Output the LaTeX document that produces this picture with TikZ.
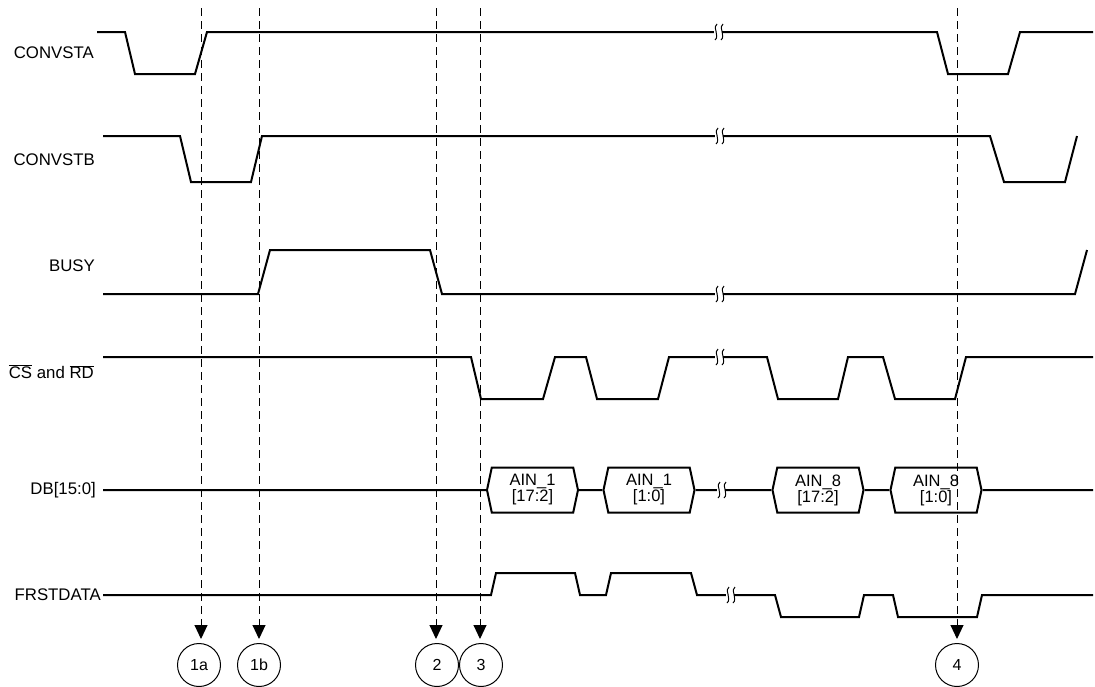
\documentclass[tikz,border=0pt]{standalone}
\usepackage{fontspec}
\setmainfont{Liberation Sans}
\usetikzlibrary{arrows.meta,shapes.symbols}
\tikzset{
  sig/.style={line width=2pt, line join=miter},
  lbl/.style={anchor=east, inner sep=0pt, font=\fontsize{16.8}{18}\selectfont},
  guide/.style={line width=1pt, dash pattern=on 8pt off 5pt, -{Triangle[width=13pt,length=14pt]}, shorten >=4pt},
  evtmark/.style={circle, draw, line width=1pt, minimum size=43pt, inner sep=0pt, font=\fontsize{16}{18}\selectfont},
  busbox/.style={signal, signal to=west and east, signal pointer angle=156, draw, line width=2pt,
     minimum width=91pt, minimum height=45pt, inner sep=0pt, align=center,
     font=\fontsize{16.5}{17}\selectfont},
  brk/.style={line width=1pt}
}
\newcommand{\brkmark}[2]{%
  \draw[brk,white,line width=3pt] (#1-4,#2) -- (#1+4,#2);
  \draw[brk] (#1-1,#2-8) .. controls (#1-6,#2-6) and (#1+2,#2+4) .. (#1-3,#2+8);
  \draw[brk] (#1+5,#2-8) .. controls (#1,#2-6) and (#1+8,#2+4) .. (#1+3,#2+8);}
\begin{document}
\begin{tikzpicture}[x=1pt,y=-1pt]
\useasboundingbox (0,0) rectangle (1095,686);
% labels
\node[lbl] (lA) at (94,53) {CONVSTA};
\node[lbl] (lB) at (95,160) {CONVSTB};
\node[lbl] (lBusy) at (95,266) {BUSY};
\node[lbl] (lCS) at (94,372) {$\overline{\mbox{CS}}$ and $\overline{\mbox{RD}}$};
\node[lbl] (lDB) at (96,490) {DB[15:0]};
\node[lbl] (lFR) at (101,595) {FRSTDATA};
% CONVSTA
\draw[sig] (97,32) -- (125,32) -- (135,74) -- (195,74) -- (207,32) -- (937,32) -- (948,74) -- (1008,74) -- (1020,32) -- (1093,32);
% CONVSTB
\draw[sig] (103,136) -- (180,136) -- (191,182) -- (251,182) -- (262,136) -- (990,136) -- (1004,182) -- (1065,182) -- (1077,136);
% BUSY
\draw[sig] (103,294) -- (258,294) -- (270,250) -- (430,250) -- (442,294) -- (1075,294) -- (1087,250);
% CS and RD
\draw[sig] (103,357) -- (471,357) -- (481,399) -- (543,399) -- (555,357) -- (586,357) -- (597,399) -- (658,399) -- (669,357) -- (767,357) -- (778,399) -- (838,399) -- (848,357) -- (883,357) -- (895,399) -- (955,399) -- (966,357) -- (1093,357);
% DB
\coordinate (dbs) at (103,490);
\coordinate (dbe) at (1093,490);
\node[busbox] (b1) at (532.5,490) {AIN\_1\\[-1pt][17:2]};
\node[busbox] (b2) at (649,490) {AIN\_1\\[-1pt][1:0]};
\node[busbox] (b3) at (818,490) {AIN\_8\\[-1pt][17:2]};
\node[busbox] (b4) at (936,490) {AIN\_8\\[-1pt][1:0]};
\draw[sig] (dbs) -- (b1) (b1) -- (b2) (b2) -- (b3) (b3) -- (b4) (b4) -- (dbe);
% FRSTDATA
\draw[sig] (103,595) -- (491,595) -- (496,573) -- (575,573) -- (580,595) -- (606,595) -- (611,573) -- (691,573) -- (697,595) -- (775,595) -- (781,617) -- (859,617) -- (864,595) -- (893,595) -- (898,617) -- (977,617) -- (982,595) -- (1093,595);
% breaks
\brkmark{718}{32}
\brkmark{719}{136}
\brkmark{719}{294}
\brkmark{719}{357}
\brkmark{721}{490}
\brkmark{730}{595}
% guides
\coordinate (t1a) at (201,8);
\coordinate (t1b) at (259,8);
\coordinate (t2) at (436,8);
\coordinate (t3) at (480,8);
\coordinate (t4) at (957,8);
\node[evtmark] (c1a) at (199,665) {1a};
\node[evtmark] (c1b) at (259,665) {1b};
\node[evtmark] (c2) at (437,665) {2};
\node[evtmark] (c3) at (481,665) {3};
\node[evtmark] (c4) at (957,665) {4};
\draw[guide] (t1a) -- (t1a |- c1a.north);
\draw[guide] (t1b) -- (c1b.north);
\draw[guide] (t2) -- (t2 |- c2.north);
\draw[guide] (t3) -- (t3 |- c3.north);
\draw[guide] (t4) -- (c4.north);
\end{tikzpicture}
\end{document}
